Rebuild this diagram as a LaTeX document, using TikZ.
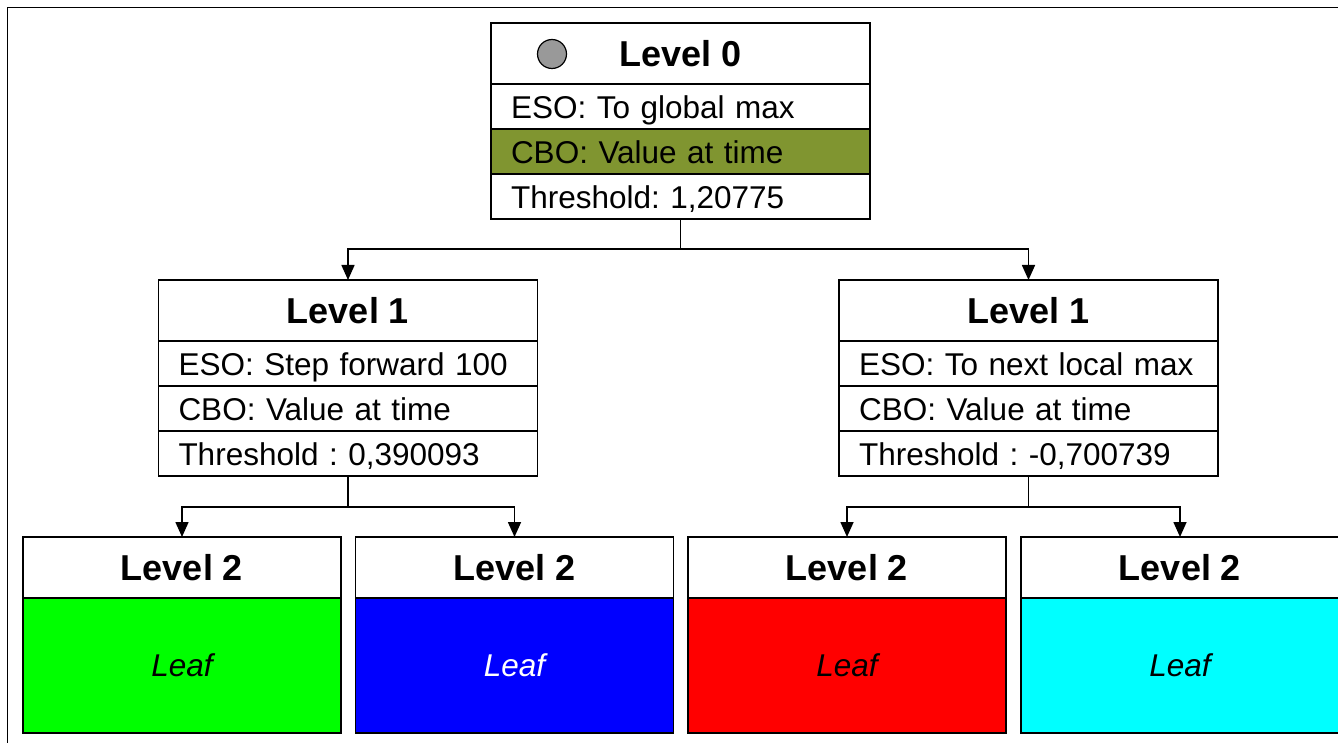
\documentclass[tikz,border=0pt]{standalone}
\usepackage{fontspec}
\setmainfont{Liberation Sans}
\usetikzlibrary{arrows.meta}
\definecolor{olivebar}{RGB}{128,149,48}
\definecolor{dotgray}{RGB}{153,153,153}
\definecolor{leafgreen}{RGB}{0,255,0}
\definecolor{leafblue}{RGB}{0,0,255}
\definecolor{leafred}{RGB}{255,0,0}
\definecolor{leafcyan}{RGB}{0,255,255}
\tikzset{
  hd/.style={draw, line width=1.6pt, minimum height=61pt, inner sep=0pt, outer sep=0pt, anchor=north,
    font=\fontsize{36}{40}\selectfont\bfseries, text height=26pt, text depth=0pt},
  row/.style={draw, line width=1.6pt, minimum height=45pt, inner xsep=20pt, inner ysep=0pt, outer sep=0pt,
    text width=339pt, align=left, anchor=north,
    font=\fontsize{31.5}{36}\selectfont, text height=24pt, text depth=0pt},
  leaf/.style={draw, line width=1.6pt, minimum width=318pt, minimum height=135pt, inner sep=0pt, outer sep=0pt,
    anchor=north, font=\fontsize{31.5}{36}\selectfont\itshape, text height=22pt, text depth=0pt},
  conn/.style={line width=1.6pt, -{Triangle[length=15pt,width=13pt]}},
}
\begin{document}
\frenchspacing
\begin{tikzpicture}[x=1pt,y=-1pt]
  \clip (0,0) rectangle (1338,743);
  \draw[line width=1.5pt] (7.5,7.5) rectangle (1360,760);
  % root
  \node(top0)[hd, minimum width=379pt] at(680.5,23) {Level 0};
  \node(dot)[circle, draw, fill=dotgray, line width=1.2pt, minimum size=29pt, inner sep=0pt] at(552,54) {};
  \node(eso0)[row] at(top0.south) {ESO: To global max};
  \node(cbo0)[row, fill=olivebar] at(eso0.south) {CBO: Value at time};
  \node(thr0)[row] at(cbo0.south) {Threshold: 1,20775};
  % second level
  \foreach \x/\n/\eso/\thr in {348/1/{Step forward 100}/{0,390093},1028.5/2/{To next local max}/{-0,700739}}{%
    \node(top\n)[hd, minimum width=379pt] at(\x,280) {Level 1};
    \node(eso\n)[row] at(top\n.south) {ESO: \eso};
    \node(cbo\n)[row] at(eso\n.south) {CBO: Value at time};
    \node(thr\n)[row] at(cbo\n.south) {Threshold : \thr};
  }
  % leaves
  \foreach \x/\n/\c/\t in {182/1/leafgreen/black,514.5/2/leafblue/white,847/3/leafred/black,1180/4/leafcyan/black}{%
    \node(lvl\n)[hd, minimum width=318pt] at(\x,537) {Level 2};
    \node(leaf\n)[leaf, fill=\c, text=\t] at(lvl\n.south) {Leaf};
  }
  \draw[conn](thr0.south) -- ++(0,30) -| (top1.north);
  \draw[conn](thr0.south) -- ++(0,30) -| (top2.north);
  \draw[conn](thr1.south) -- ++(0,31) -| (lvl1.north);
  \draw[conn](thr1.south) -- ++(0,31) -| (lvl2.north);
  \draw[conn](thr2.south) -- ++(0,31) -| (lvl3.north);
  \draw[conn](thr2.south) -- ++(0,31) -| (lvl4.north);
\end{tikzpicture}
\end{document}
